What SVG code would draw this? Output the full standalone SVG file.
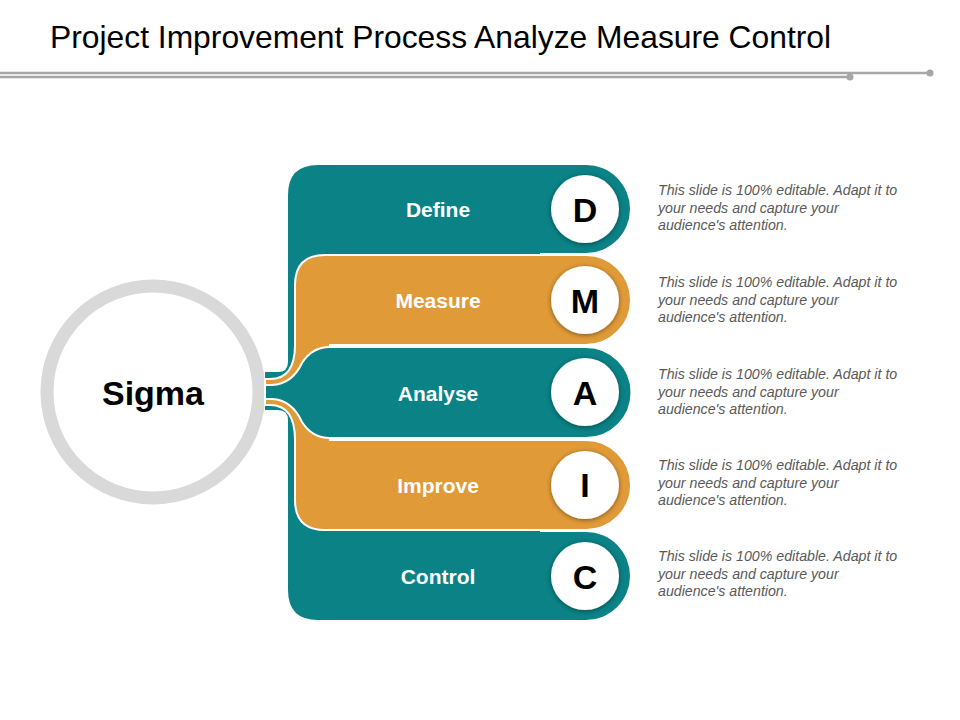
<svg xmlns="http://www.w3.org/2000/svg" width="960" height="720" viewBox="0 0 960 720">
<defs>
<filter id="sh" x="-30%" y="-30%" width="160%" height="160%"><feGaussianBlur in="SourceAlpha" stdDeviation="2.5"/><feOffset dx="0" dy="1"/><feComponentTransfer><feFuncA type="linear" slope="0.45"/></feComponentTransfer><feMerge><feMergeNode/><feMergeNode in="SourceGraphic"/></feMerge></filter>
</defs>
<style>
.t{fill:#0a8286}.o{fill:#e09a38}.ws{stroke:#fff;stroke-width:2}
.lbl{font-family:"Liberation Sans",Arial,sans-serif;font-weight:bold;font-size:21px;fill:#fff;text-anchor:middle}
.let{font-family:"Liberation Sans",Arial,sans-serif;font-weight:bold;font-size:34px;fill:#000;text-anchor:middle}
.desc{font-family:"Liberation Sans",Arial,sans-serif;font-style:italic;font-size:14.2px;fill:#595959}
.bc{fill:#fff}
</style>
<text x="50" y="48" font-family="Liberation Sans,Arial,sans-serif" font-size="31.8" fill="#000">Project Improvement Process Analyze Measure Control</text>
<g stroke="#a6a6a6" stroke-width="2.5" fill="#a6a6a6">
<line x1="0" y1="73" x2="930" y2="73"/><line x1="0" y1="77" x2="850" y2="77"/>
<circle cx="930" cy="73" r="3.5" stroke="none"/><circle cx="850" cy="77" r="3.5" stroke="none"/>
</g>
<g id="sigma"><circle cx="153" cy="392" r="106" fill="none" stroke="#d9d9d9" stroke-width="13"/>
<text x="153" y="405" class="let" font-size="35">Sigma</text></g>
<g id="connectors">
<path class="t" d="M318,165 H540 V620 H318 Q288,620 288,590 V420 Q288,410 278,410 H265 V372 H278 Q288,372 288,362 V195 Q288,165 318,165Z"/>
</g>
<g id="define"><rect class="t" x="288" y="165" width="342" height="88" rx="44"/></g>
<g id="control"><rect class="t" x="288" y="532" width="342" height="88" rx="44"/></g>
<g id="measure"><path class="o ws" d="M325,255 H586 A45,45 0 0 1 586,345 H330 V390 H265 V379 H270 Q295,379 295,345 V285 Q295,255 325,255Z"/></g>
<g id="improve"><path class="o ws" d="M325,530 Q295,530 295,500 V440 Q295,405 270,405 H265 V394 H330 V440 H586 A45,45 0 0 1 586,530Z"/></g>
<g id="analyse"><path class="t ws" d="M330,347 H586 A45.5,45.5 0 0 1 586,438 H330 Q312,438 302,422 Q292,400 272,399 H265 V385 H272 Q292,384 302,363 Q312,347 330,347Z"/></g>
<g id="badges" filter="url(#sh)">
<circle class="bc" cx="585" cy="209" r="34"/><circle class="bc" cx="585" cy="300" r="34"/><circle class="bc" cx="585" cy="392" r="34"/><circle class="bc" cx="585" cy="485" r="34"/><circle class="bc" cx="585" cy="576" r="34"/>
</g>
<g>
<text class="lbl" x="438" y="217">Define</text><text class="let" x="585" y="222">D</text>
<text class="lbl" x="438" y="308">Measure</text><text class="let" x="585" y="313">M</text>
<text class="lbl" x="438" y="401">Analyse</text><text class="let" x="585" y="405">A</text>
<text class="lbl" x="438" y="493">Improve</text><text class="let" x="585" y="497">I</text>
<text class="lbl" x="438" y="584">Control</text><text class="let" x="585" y="589">C</text>
</g>
<g class="desc">
<text x="658" y="195">This slide is 100% editable.  Adapt it to</text><text x="658" y="213">your needs and capture your</text><text x="658" y="230">audience's attention.</text>
<text x="658" y="287">This slide is 100% editable.  Adapt it to</text><text x="658" y="305">your needs and capture your</text><text x="658" y="322">audience's attention.</text>
<text x="658" y="379">This slide is 100% editable.  Adapt it to</text><text x="658" y="397">your needs and capture your</text><text x="658" y="414">audience's attention.</text>
<text x="658" y="470">This slide is 100% editable.  Adapt it to</text><text x="658" y="488">your needs and capture your</text><text x="658" y="505">audience's attention.</text>
<text x="658" y="561">This slide is 100% editable.  Adapt it to</text><text x="658" y="579">your needs and capture your</text><text x="658" y="596">audience's attention.</text>
</g>
</svg>
